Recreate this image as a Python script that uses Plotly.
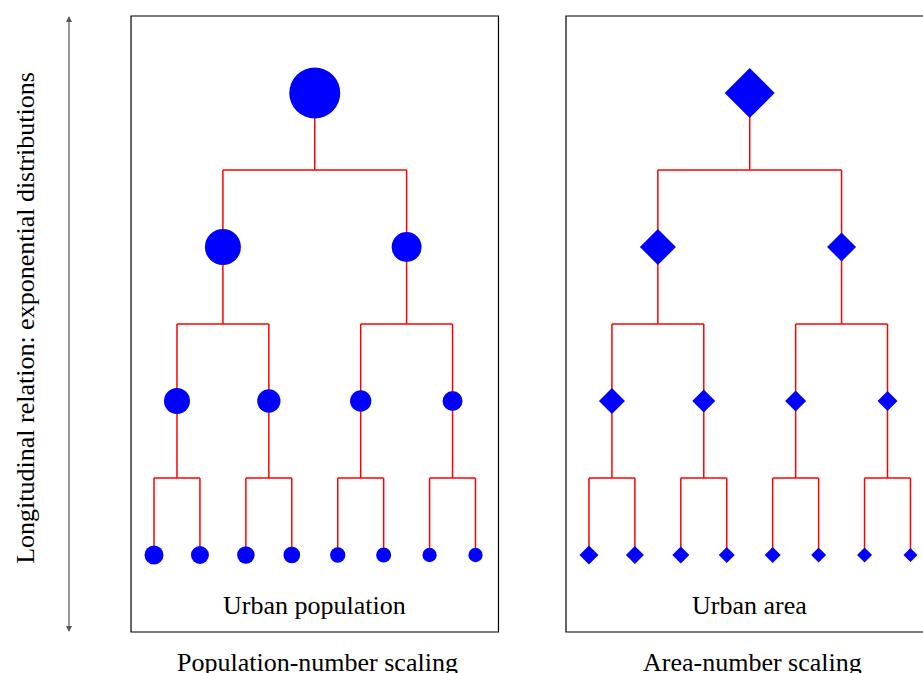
import plotly.graph_objects as go

# ---- data ----
levels = [0, 1, 2, 3]
# node magnitudes per level (px)
population_nodes = [
    [51],
    [36, 30],
    [26, 23.3, 21.3, 20],
    [19, 18, 17.5, 16.7, 15.3, 15, 14.3, 14.3],
]
area_nodes = [
    [50],
    [36, 29],
    [26, 23, 21, 20],
    [19, 18, 17, 16, 16, 15, 15, 14],
]
panel_labels = ["Urban population", "Urban area"]
panel_captions = ["Population-number scaling", "Area-number scaling"]
side_label = "Longitudinal relation: exponential distributions"

# ---- layout constants ----
W, H = 923, 673
PX_PER_LEAF = 45.93
PX_PER_LEVEL = 154.0
LEAF0_PX = 154.0
LEVEL0_PX = 93.0
PANEL_OFFSET = 9.47  # in leaf units
FONT = "Liberation Serif, Times New Roman, serif"
FS = 26

x_range = [-LEAF0_PX / PX_PER_LEAF, (W - LEAF0_PX) / PX_PER_LEAF]
y_range = [(H - LEVEL0_PX) / PX_PER_LEVEL, -LEVEL0_PX / PX_PER_LEVEL]


def node_x(level, idx):
    span = 2 ** (3 - level)
    return idx * span + (span - 1) / 2.0


fig = go.Figure()

for p, (nodes, symbol, scale) in enumerate(
    [(population_nodes, "circle", 1.0), (area_nodes, "diamond", 1 / 1.3)]
):
    off = p * PANEL_OFFSET
    # connectors
    lx, ly = [], []
    for lev in levels[:-1]:
        for i in range(len(nodes[lev])):
            xp = node_x(lev, i) + off
            xc1 = node_x(lev + 1, 2 * i) + off
            xc2 = node_x(lev + 1, 2 * i + 1) + off
            mid = lev + 0.5
            lx += [xp, xp, None, xc1, xc2, None, xc1, xc1, None, xc2, xc2, None]
            ly += [lev, mid, None, mid, mid, None, mid, lev + 1, None, mid, lev + 1, None]
    fig.add_trace(go.Scatter(x=lx, y=ly, mode="lines",
                             line=dict(color="#ff0000", width=1.5),
                             hoverinfo="skip", showlegend=False))
    # nodes
    nx, ny, ns = [], [], []
    for lev in levels:
        for i, v in enumerate(nodes[lev]):
            nx.append(node_x(lev, i) + off)
            ny.append(lev)
            ns.append(v * scale)
    fig.add_trace(go.Scatter(x=nx, y=ny, mode="markers",
                             marker=dict(symbol=symbol, size=ns, color="#0000ff",
                                         opacity=1, line=dict(width=0)),
                             showlegend=False))
    # box
    fig.add_shape(type="rect", xref="x", yref="y",
                  x0=-0.5 + off, x1=7.5 + off, y0=-0.5, y1=3.5,
                  line=dict(color="black", width=1.2), layer="below")
    fig.add_annotation(x=3.5 + off, y=3.325, xref="x", yref="y",
                       text=panel_labels[p], showarrow=False,
                       font=dict(family=FONT, size=FS, color="black"))
    fig.add_annotation(x=3.55 + off, y=3.7, xref="x", yref="y",
                       text=panel_captions[p], showarrow=False,
                       font=dict(family=FONT, size=FS, color="black"))

# side arrow and label
ax_x = (69 - LEAF0_PX) / PX_PER_LEAF
fig.add_annotation(x=ax_x, y=-0.5, ax=ax_x, ay=3.51, xref="x", yref="y",
                   axref="x", ayref="y", text="", showarrow=True,
                   arrowhead=2, arrowside="end+start", arrowsize=1,
                   arrowwidth=1.2, arrowcolor="#555555")
fig.add_annotation(x=(26 - LEAF0_PX) / PX_PER_LEAF, y=1.46, xref="x", yref="y",
                   text=side_label, textangle=-90, showarrow=False,
                   font=dict(family=FONT, size=FS, color="black"))

fig.update_xaxes(range=x_range, visible=False, fixedrange=True)
fig.update_yaxes(range=y_range, visible=False, fixedrange=True)
fig.update_layout(width=W, height=H, margin=dict(l=0, r=0, t=0, b=0),
                  plot_bgcolor="white", paper_bgcolor="white")

fig.write_html("out.html", config={"displayModeBar": False},
               post_script="document.body.style.margin='0';document.body.style.overflow='hidden';")
